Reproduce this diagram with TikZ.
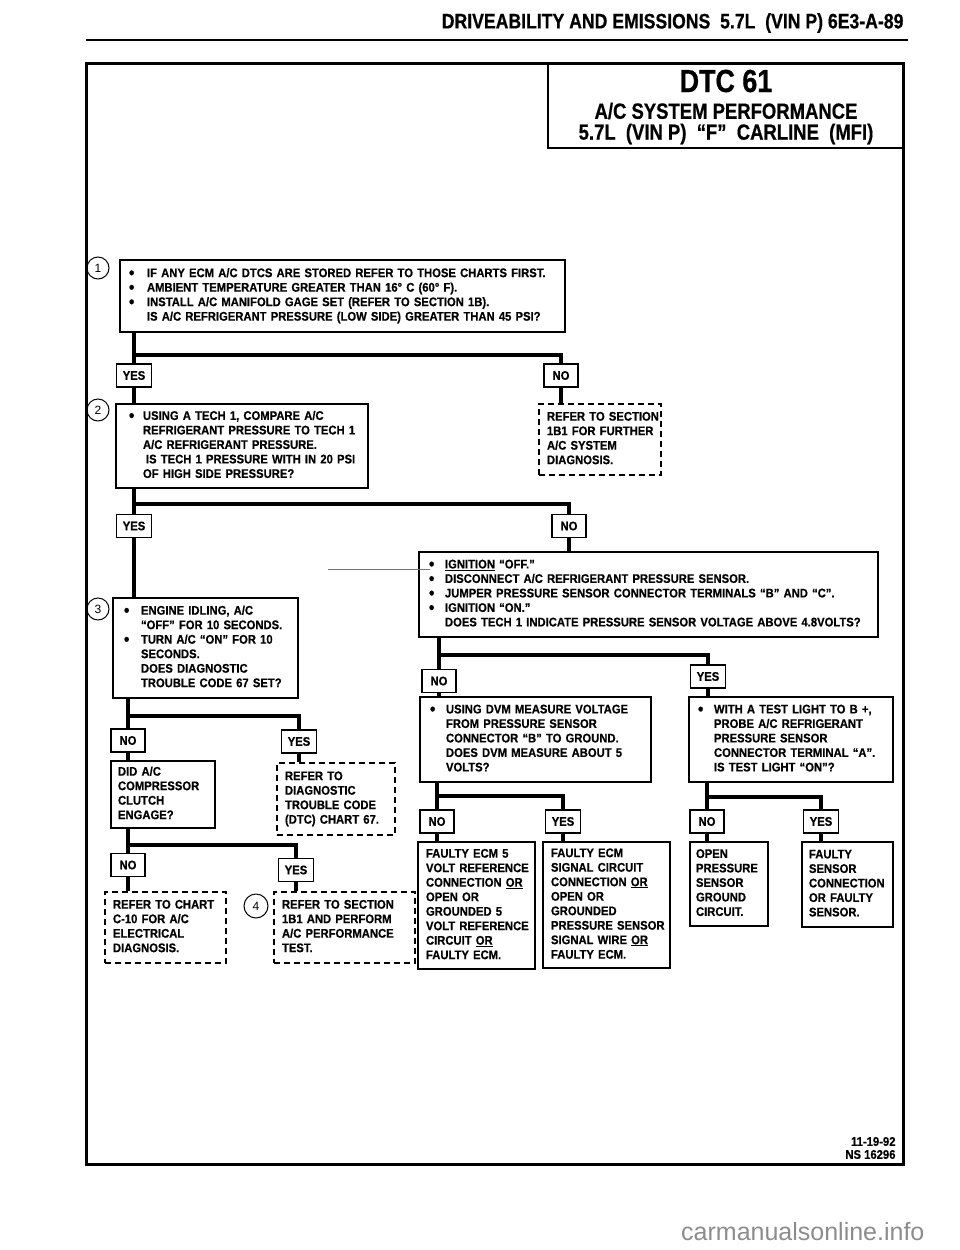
\documentclass[tikz,border=0pt]{standalone}
\usepackage{fontspec}
\setmainfont{Liberation Sans}[BoldFeatures={FakeStretch=0.9,FakeBold=0.6}]
\newfontfamily\ttlfont{Liberation Sans}[Ligatures=TeX,FakeStretch=0.84,BoldFeatures={FakeBold=0.6}]
\newcommand{\bl}[1][16pt]{\makebox[#1][l]{\smash{\raisebox{-1.3pt}{\fontsize{17}{17}\selectfont\textbullet}}}}
\newcommand{\ind}[1][16pt]{\hspace*{#1}}
\newcommand{\boxtext}[1]{\begin{tabular}{@{}l@{}}#1\end{tabular}}

\begin{document}
\begin{tikzpicture}[x=1pt,y=-1pt,
  every node/.style={font=\bfseries\fontsize{12.5}{14.5}\selectfont},
  qbox/.style={draw,line width=1.3pt,align=left,inner ysep=2pt},
  dbox/.style={qbox,dash pattern=on 6pt off 4pt},
  ans/.style={draw,line width=1.3pt,minimum width=34pt,minimum height=23pt,inner xsep=6pt,inner ysep=0pt},
  num/.style={draw,circle,line width=1pt,minimum size=22pt,inner sep=0pt,font=\fontsize{12}{12}\selectfont},
  conn/.style={line width=4pt}]
\useasboundingbox (0,0) rectangle (960,1250);
\draw[line width=2pt] (86,40) -- (908,40);
\draw[line width=3pt] (86,63) rectangle (903,1164);
\draw[line width=2pt] (548,63) |- (903,148);
\node[anchor=east,font={\ttlfont\bfseries\fontsize{21}{21}\selectfont}] (hdr) at (907,23) {DRIVEABILITY AND EMISSIONS\ \ 5.7L\ \ (VIN P) 6E3-A-89};
\node[font={\ttlfont\bfseries\fontsize{32}{32}\selectfont}] (dtc) at (726,81) {DTC 61};
\node[font={\ttlfont\bfseries\fontsize{22}{22}\selectfont}] (ttl1) at (726,111) {A/C SYSTEM PERFORMANCE};
\node[font={\ttlfont\bfseries\fontsize{22}{22}\selectfont}] (ttl2) at (726,134) {5.7L\ \ (VIN P)\ \ ``F''\ \ CARLINE\ \ (MFI)};

\node[qbox,text width=427pt,inner xsep=9pt,minimum height=72pt] (q1) at (342.5,296) {\boxtext{\bl[18pt]IF ANY ECM A/C DTCS ARE STORED REFER TO THOSE CHARTS FIRST.\\\bl[18pt]AMBIENT TEMPERATURE GREATER THAN 16° C (60° F).\\\bl[18pt]INSTALL A/C MANIFOLD GAGE SET (REFER TO SECTION 1B).\\\ind[18pt]IS A/C REFRIGERANT PRESSURE (LOW SIDE) GREATER THAN 45 PSI?}};
\node[num] (c1) at (98,268) {1};
\node[ans] (y1) at (134,375.5) {YES};
\node[ans] (n1) at (561,375.5) {NO};
\node[qbox,text width=226pt,inner xsep=13pt,minimum height=84pt] (q2) at (242,446) {\boxtext{\bl[14pt]USING A TECH 1, COMPARE A/C\\\ind[14pt]REFRIGERANT PRESSURE TO TECH 1\\\ind[14pt]A/C REFRIGERANT PRESSURE.\\\ind[17pt]IS TECH 1 PRESSURE WITH IN 20 PSI\\\ind[14pt]OF HIGH SIDE PRESSURE?}};
\node[num] (c2) at (98,410) {2};
\node[dbox,text width=106pt,inner xsep=8pt,minimum height=71pt] (r1b1) at (600,439.5) {\boxtext{REFER TO SECTION\\1B1 FOR FURTHER\\A/C SYSTEM\\DIAGNOSIS.}};
\node[ans] (y2) at (134,526) {YES};
\node[ans] (n2) at (569,526) {NO};
\node[qbox,text width=439pt,inner xsep=10pt,minimum height=85pt] (q4) at (648.5,594.5) {\boxtext{\bl\underline{IGNITION} ``OFF.''\\\bl DISCONNECT A/C REFRIGERANT PRESSURE SENSOR.\\\bl JUMPER PRESSURE SENSOR CONNECTOR TERMINALS ``B'' AND ``C''.\\\bl IGNITION ``ON.''\\\ind DOES TECH 1 INDICATE PRESSURE SENSOR VOLTAGE ABOVE 4.8VOLTS?}};
\draw[black!55,line width=0.6pt] (328,569) -- (430,569);
\node[qbox,text width=163pt,inner xsep=11pt,minimum height=100pt] (q3) at (205.5,648) {\boxtext{\bl[17pt]ENGINE IDLING, A/C\\\ind[17pt]``OFF'' FOR 10 SECONDS.\\\bl[17pt]TURN A/C ``ON'' FOR 10\\\ind[17pt]SECONDS.\\\ind[17pt]DOES DIAGNOSTIC\\\ind[17pt]TROUBLE CODE 67 SET?}};
\node[num] (c3) at (98,609) {3};
\node[ans] (n4) at (439,681) {NO};
\node[ans] (y4) at (708,676.5) {YES};
\node[qbox,text width=211pt,inner xsep=10pt,minimum height=85pt] (q5) at (535.5,739.5) {\boxtext{\bl USING DVM MEASURE VOLTAGE\\\ind FROM PRESSURE SENSOR\\\ind CONNECTOR ``B'' TO GROUND.\\\ind DOES DVM MEASURE ABOUT 5\\\ind VOLTS?}};
\node[qbox,text width=186pt,inner xsep=9pt,minimum height=85pt] (q6) at (791,739.5) {\boxtext{\bl WITH A TEST LIGHT TO B +,\\\ind PROBE A/C REFRIGERANT\\\ind PRESSURE SENSOR\\\ind CONNECTOR TERMINAL ``A''.\\\ind IS TEST LIGHT ``ON''?}};
\node[ans] (n3) at (128,740.5) {NO};
\node[ans] (y3) at (299,741.5) {YES};
\node[qbox,text width=90pt,inner xsep=7pt,minimum height=67pt] (q7) at (163,794.5) {\boxtext{DID A/C\\COMPRESSOR\\CLUTCH\\ENGAGE?}};
\node[dbox,text width=102pt,inner xsep=8pt,minimum height=72pt] (r67) at (336,799) {\boxtext{REFER TO\\DIAGNOSTIC\\TROUBLE CODE\\(DTC) CHART 67.}};
\node[ans] (n6) at (437,821.5) {NO};
\node[ans] (y6) at (563,821.5) {YES};
\node[ans] (n7) at (707,821.5) {NO};
\node[ans] (y7) at (821,821.5) {YES};
\node[ans] (n5) at (128,865) {NO};
\node[ans] (y5) at (296,870) {YES};
\node[dbox,text width=105pt,inner xsep=8pt,minimum height=71pt] (rc10) at (165.5,927.5) {\boxtext{REFER TO CHART\\C-10 FOR A/C\\ELECTRICAL\\DIAGNOSIS.}};
\node[dbox,text width=125pt,inner xsep=8pt,minimum height=71pt] (rperf) at (344.5,927.5) {\boxtext{REFER TO SECTION\\1B1 AND PERFORM\\A/C PERFORMANCE\\TEST.}};
\node[num,minimum size=24pt] (c4) at (256,906) {4};
\node[qbox,text width=101pt,inner xsep=8pt,minimum height=127pt] (f1) at (476.5,905.5) {\boxtext{FAULTY ECM 5\\VOLT REFERENCE\\CONNECTION \underline{OR}\\OPEN OR\\GROUNDED 5\\VOLT REFERENCE\\CIRCUIT \underline{OR}\\FAULTY ECM.}};
\node[qbox,text width=111pt,inner xsep=8pt,minimum height=126pt] (f2) at (606.5,905) {\boxtext{FAULTY ECM\\SIGNAL CIRCUIT\\CONNECTION \underline{OR}\\OPEN OR\\GROUNDED\\PRESSURE SENSOR\\SIGNAL WIRE \underline{OR}\\FAULTY ECM.}};
\node[qbox,text width=66pt,inner xsep=6pt,minimum height=84pt] (f3) at (729,884) {\boxtext{OPEN\\PRESSURE\\SENSOR\\GROUND\\CIRCUIT.}};
\node[qbox,text width=77pt,inner xsep=7pt,minimum height=85pt] (f4) at (847.5,884.5) {\boxtext{FAULTY\\SENSOR\\CONNECTION\\OR FAULTY\\SENSOR.}};

\coordinate (k1) at (134,355);
\coordinate (k2) at (134,504);
\coordinate (k3) at (128,716);
\coordinate (k4) at (439,655);
\coordinate (k5) at (128,845);
\coordinate (k6) at (437,796);
\coordinate (k7) at (707,797);
\draw[conn] (q1.south -| k1) -- (y1.north) (k1) -| (n1.north);
\draw[conn] (y1.south) -- (q2.north -| y1) (n1.south) -- (r1b1.north -| n1);
\draw[conn] (q2.south -| k2) -- (y2.north) (k2) -| (n2.north);
\draw[conn] (y2.south) -- (q3.north -| y2) (n2.south) -- (q4.north -| n2);
\draw[conn] (q3.south -| k3) -- (n3.north) (k3) -| (y3.north);
\draw[conn] (n3.south) -- (q7.north -| n3) (y3.south) -- (r67.north -| y3);
\draw[conn] (q7.south -| k5) -- (n5.north) (k5) -| (y5.north);
\draw[conn] (n5.south) -- (rc10.north -| n5) (y5.south) -- (rperf.north -| y5);
\draw[conn] (q4.south -| k4) -- (n4.north) (k4) -| (y4.north);
\draw[conn] (n4.south) -- (q5.north -| n4) (y4.south) -- (q6.north -| y4);
\draw[conn] (q5.south -| k6) -- (n6.north) (k6) -| (y6.north);
\draw[conn] (n6.south) -- (f1.north -| n6) (y6.south) -- (f2.north -| y6);
\draw[conn] (q6.south -| k7) -- (n7.north) (k7) -| (y7.north);
\draw[conn] (n7.south) -- (f3.north -| n7) (y7.south) -- (f4.north -| y7);

\node[anchor=east,align=right,font=\bfseries\fontsize{12.5}{13}\selectfont] (stamp) at (899,1148) {11-19-92\\NS 16296};
\node[anchor=west,inner sep=0pt,text=black!45,font=\fontsize{25}{25}\selectfont] (wm) at (681,1232) {carmanualsonline.info};
\end{tikzpicture}
\end{document}
